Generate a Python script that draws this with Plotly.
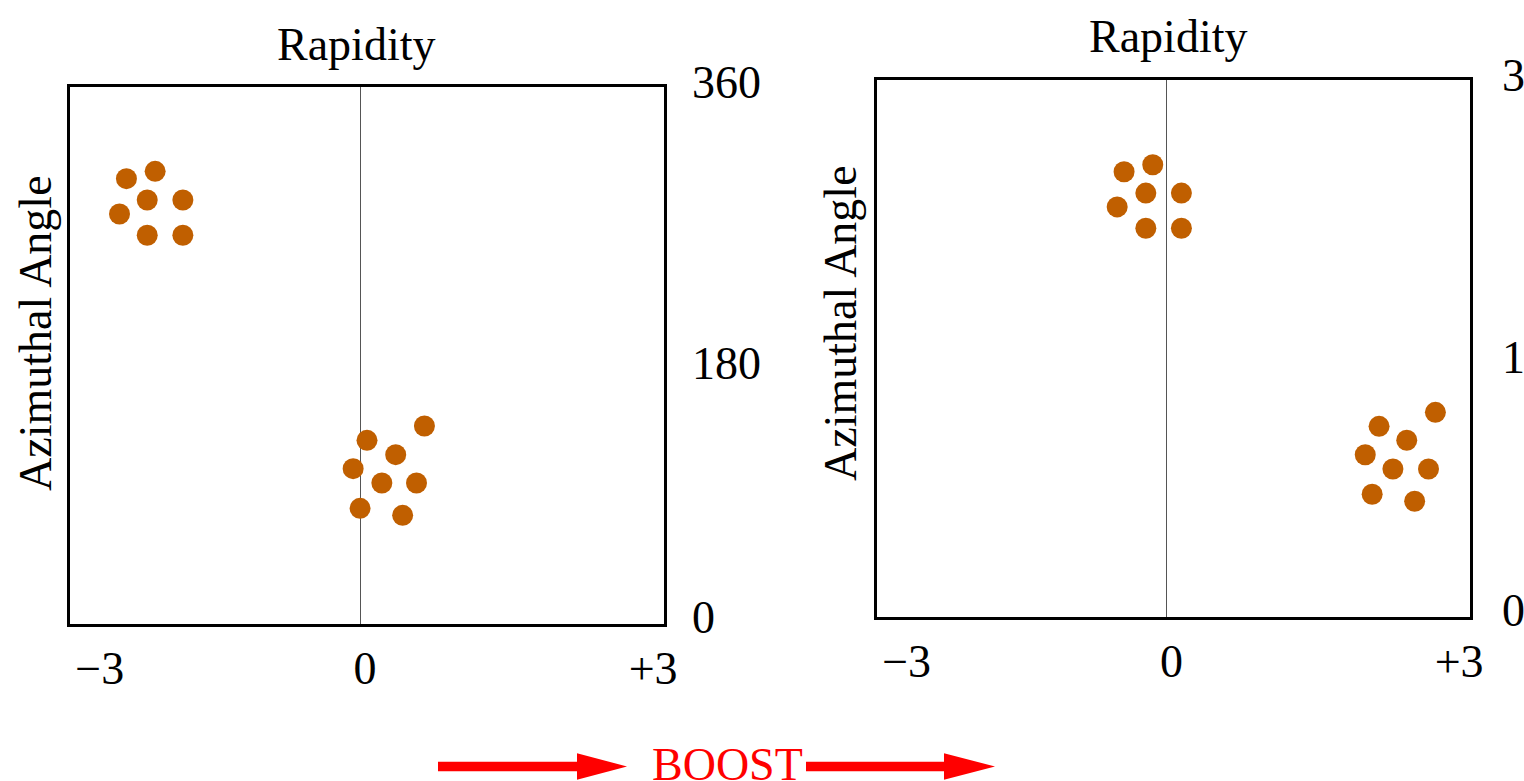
import plotly.graph_objects as go

# ---------------- data ----------------
# left panel (before boost): two jets in (rapidity, azimuthal angle [deg])
LEFT_JET1_Y = [-2.36, -2.07, -2.15, -1.79, -2.43, -2.15, -1.79]
LEFT_JET1_PHI = [298.5, 303.4, 284.2, 284.2, 274.8, 260.5, 260.5]
LEFT_JET2_Y = [0.65, 0.07, 0.36, -0.07, 0.22, 0.57, 0.00, 0.43]
LEFT_JET2_PHI = [132.5, 122.9, 113.3, 103.9, 94.3, 94.3, 77.3, 72.6]

# right panel (after boost)
RIGHT_JET1_Y = [-0.14, -0.43, -0.21, 0.15, -0.50, -0.21, 0.15]
RIGHT_JET1_PHI = [303.2, 298.5, 284.2, 284.2, 274.9, 260.6, 260.6]
RIGHT_JET2_Y = [2.72, 2.15, 2.43, 2.01, 2.29, 2.65, 2.08, 2.51]
RIGHT_JET2_PHI = [137.2, 127.8, 118.5, 108.8, 99.2, 99.2, 82.3, 77.6]

X_TICK_TEXT = ["\u22123", "0", "+3"]
X_TICK_POS = [-2.63, 0.05, 2.96]
Y_TICK_TEXT = ["0", "180", "360"]
Y_TICK_POS = [4.2, 174.2, 363.0]

X_TITLE = "Rapidity"
Y_TITLE = "Azimuthal Angle"
BOOST_LABEL = "BOOST"

# ---------------- style ----------------
W, H = 1524, 781
FONT = "Liberation Serif"
FS = 46
DOT = "#c05f00"
YMAX = 360.0


def px(x):
    return x / W


def py(y):
    return 1 - y / H


fig = go.Figure()

panels = [
    dict(xa="x", ya="y", xd=[px(70), px(664)], yd=[py(623.5), py(87)],
         jets=[(LEFT_JET1_Y, LEFT_JET1_PHI), (LEFT_JET2_Y, LEFT_JET2_PHI)],
         title_xy=(355.5, 44.5), ytitle_xy=(35, 333), ylab_shift=26),
    dict(xa="x2", ya="y2", xd=[px(877), px(1470)], yd=[py(617), py(80)],
         jets=[(RIGHT_JET1_Y, RIGHT_JET1_PHI), (RIGHT_JET2_Y, RIGHT_JET2_PHI)],
         title_xy=(1168, 36), ytitle_xy=(840, 323), ylab_shift=30),
]

annotations = []
for i, p in enumerate(panels):
    for xs, ys in p["jets"]:
        fig.add_trace(go.Scatter(
            x=xs, y=ys, mode="markers", xaxis=p["xa"], yaxis=p["ya"],
            marker=dict(size=21, color=DOT, line=dict(width=0)),
            showlegend=False, hoverinfo="skip"))
    sfx = "" if i == 0 else "2"
    axcommon = dict(showgrid=False, showline=True, linewidth=3, linecolor="black",
                    mirror=True, ticks="", automargin=False)
    fig.update_layout(**{
        "xaxis" + sfx: dict(
            domain=p["xd"], range=[-2.93, 3.07], anchor="y" + sfx,
            zeroline=True, zerolinecolor="#555555", zerolinewidth=1,
            tickmode="array", tickvals=X_TICK_POS, ticktext=X_TICK_TEXT,
            tickfont=dict(family=FONT, size=FS, color="black"),
            ticklabelstandoff=2, **axcommon),
        "yaxis" + sfx: dict(
            domain=p["yd"], range=[0, YMAX], anchor="x" + sfx,
            zeroline=False, showticklabels=False, **axcommon),
    })
    for t, v in zip(Y_TICK_TEXT, Y_TICK_POS):
        annotations.append(dict(
            text=t, xref="x%s domain" % sfx, x=1, xanchor="left", xshift=p["ylab_shift"],
            yref="y%s domain" % sfx, y=v / YMAX, yanchor="middle", showarrow=False,
            font=dict(family=FONT, size=FS, color="black")))
    tx, ty = p["title_xy"]
    annotations.append(dict(
        text=X_TITLE, xref="paper", yref="paper", x=px(tx), y=py(ty),
        xanchor="center", yanchor="middle", showarrow=False,
        font=dict(family=FONT, size=FS, color="black")))
    ax_, ay_ = p["ytitle_xy"]
    annotations.append(dict(
        text=Y_TITLE, xref="paper", yref="paper", x=px(ax_), y=py(ay_),
        xanchor="center", yanchor="middle", textangle=-90, showarrow=False,
        font=dict(family=FONT, size=FS, color="black")))

annotations.append(dict(
    text=BOOST_LABEL, xref="paper", yref="paper", x=px(727), y=py(764),
    xanchor="center", yanchor="middle", showarrow=False,
    font=dict(family=FONT, size=FS, color="#ff0000")))


def arrow_path(x0, xb, xt, yc, half_shaft=4.7, half_head=13.3):
    pts = [(x0, yc - half_shaft), (xb, yc - half_shaft), (xb, yc - half_head),
           (xt, yc), (xb, yc + half_head), (xb, yc + half_shaft), (x0, yc + half_shaft)]
    d = "M " + " L ".join("%.5f,%.5f" % (px(a), py(b)) for a, b in pts) + " Z"
    return dict(type="path", xref="paper", yref="paper", path=d,
                fillcolor="#ff0000", line=dict(width=0))


shapes = [arrow_path(438, 577, 627, 766.5), arrow_path(806, 944, 995, 766.5)]

fig.update_layout(
    width=W, height=H, autosize=False,
    margin=dict(l=0, r=0, t=0, b=0, pad=0, autoexpand=False),
    paper_bgcolor="white", plot_bgcolor="white",
    annotations=annotations, shapes=shapes,
    font=dict(family=FONT, size=FS, color="black"),
)

fig.write_html(
    "out.html",
    config={"displayModeBar": False, "responsive": False},
    post_script="document.body.style.margin='0';document.body.style.overflow='hidden';",
)
